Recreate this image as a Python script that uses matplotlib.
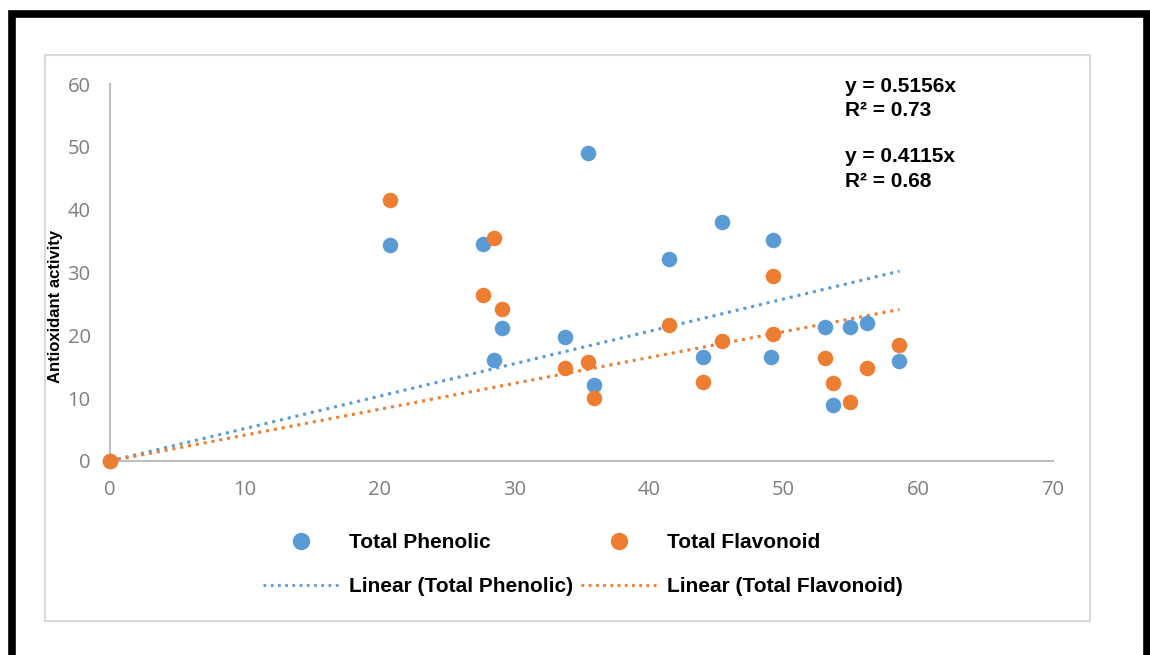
import matplotlib.pyplot as plt
from matplotlib.lines import Line2D
from matplotlib.patches import Rectangle
import numpy as np

# values
phenolic_x = [0, 20.8, 27.7, 29.1, 28.5, 33.8, 35.5, 35.9, 41.5, 44.0, 45.4, 49.2, 49.1, 53.1, 53.7, 54.9, 56.2, 58.6]
phenolic_y = [0, 34.4, 34.6, 21.2, 16.1, 19.7, 49.0, 12.1, 32.2, 16.6, 38.1, 35.2, 16.6, 21.3, 8.9, 21.3, 22.0, 15.9]
flavonoid_x = [0, 20.8, 27.7, 28.5, 29.1, 33.8, 35.5, 35.9, 41.5, 44.0, 45.4, 49.2, 49.2, 53.1, 53.7, 54.9, 56.2, 58.6]
flavonoid_y = [0, 41.6, 26.4, 35.5, 24.2, 14.8, 15.8, 10.0, 21.7, 12.6, 19.1, 29.5, 20.2, 16.4, 12.4, 9.4, 14.8, 18.5]
slope_phen = 0.5156
slope_flav = 0.4115
r2_phen = 0.73
r2_flav = 0.68

blue = '#5B9BD5'
orange = '#ED7D31'

fig = plt.figure(figsize=(11.5, 6.55), dpi=100)
ax = fig.add_axes([110/1150, 1-461/655, (1053-110)/1150, (461-84)/655])

# trend lines through the origin
xl = np.array([0, max(phenolic_x)])
ax.plot(xl, slope_phen*xl, linestyle=(0, (1, 1.6)), color=blue, lw=2.2, zorder=2)
xl2 = np.array([0, max(flavonoid_x)])
ax.plot(xl2, slope_flav*xl2, linestyle=(0, (1, 1.6)), color=orange, lw=2.2, zorder=2)

ax.scatter(phenolic_x, phenolic_y, s=125, color=blue, zorder=3, linewidths=0, clip_on=False)
ax.scatter(flavonoid_x, flavonoid_y, s=125, color=orange, zorder=4, linewidths=0, clip_on=False)

ax.set_xlim(0, 70)
ax.set_ylim(0, 60)
ax.set_xticks(range(0, 71, 10))
ax.set_yticks(range(0, 61, 10))
for s in ['top', 'right']:
    ax.spines[s].set_visible(False)
for s in ['left', 'bottom']:
    ax.spines[s].set_color('#BFBFBF')
    ax.spines[s].set_linewidth(1.5)
ax.tick_params(length=0, labelsize=14.5, labelcolor='#7F7F7F', pad=14)
for lab in ax.get_xticklabels() + ax.get_yticklabels():
    lab.set_family('Open Sans')
ax.patch.set_alpha(0)

fig.text(56/1150, 1-306/655, 'Antioxidant activity', rotation=90, ha='center', va='center',
         fontsize=12, fontweight='bold', family='Liberation Sans')

# equations
eq_kw = dict(fontsize=15, fontweight='bold', family='Liberation Sans', ha='left', va='center')
fig.text(845/1150, 1-86/655, 'y = %.4fx' % slope_phen, **eq_kw)
fig.text(845/1150, 1-110/655, 'R² = %.2f' % r2_phen, **eq_kw)
fig.text(845/1150, 1-156/655, 'y = %.4fx' % slope_flav, **eq_kw)
fig.text(845/1150, 1-181/655, 'R² = %.2f' % r2_flav, **eq_kw)

# legend
h_phen = Line2D([], [], marker='o', color=blue, linestyle='none', markersize=11.5)
h_flav = Line2D([], [], marker='o', color=orange, linestyle='none', markersize=11.5)
h_lphen = Line2D([], [], color=blue, linestyle=(0, (1, 1.6)), lw=2)
h_lflav = Line2D([], [], color=orange, linestyle=(0, (1, 1.6)), lw=2)
fig.legend([h_phen, h_lphen, h_flav, h_lflav],
           ['Total Phenolic', 'Linear (Total Phenolic)', 'Total Flavonoid', 'Linear (Total Flavonoid)'],
           ncol=2, loc='center', bbox_to_anchor=(583/1150, 1-565/655), frameon=False,
           prop={'family': 'Liberation Sans', 'weight': 'bold', 'size': 15},
           handlelength=3.6, columnspacing=0.4, labelspacing=1.2, handletextpad=0.5)

# borders
fig.patches.append(Rectangle((45/1150, 1-621/655), (1090-45)/1150, (621-55)/655,
                             transform=fig.transFigure, fill=False, edgecolor='#D9D9D9', lw=1.5))
fig.patches.append(Rectangle((11.5/1150, -0.05), (1147-11.5)/1150, 1.05-13.5/655,
                             transform=fig.transFigure, fill=False, edgecolor='black', lw=5.5))

fig.savefig('out.png', dpi=100)
